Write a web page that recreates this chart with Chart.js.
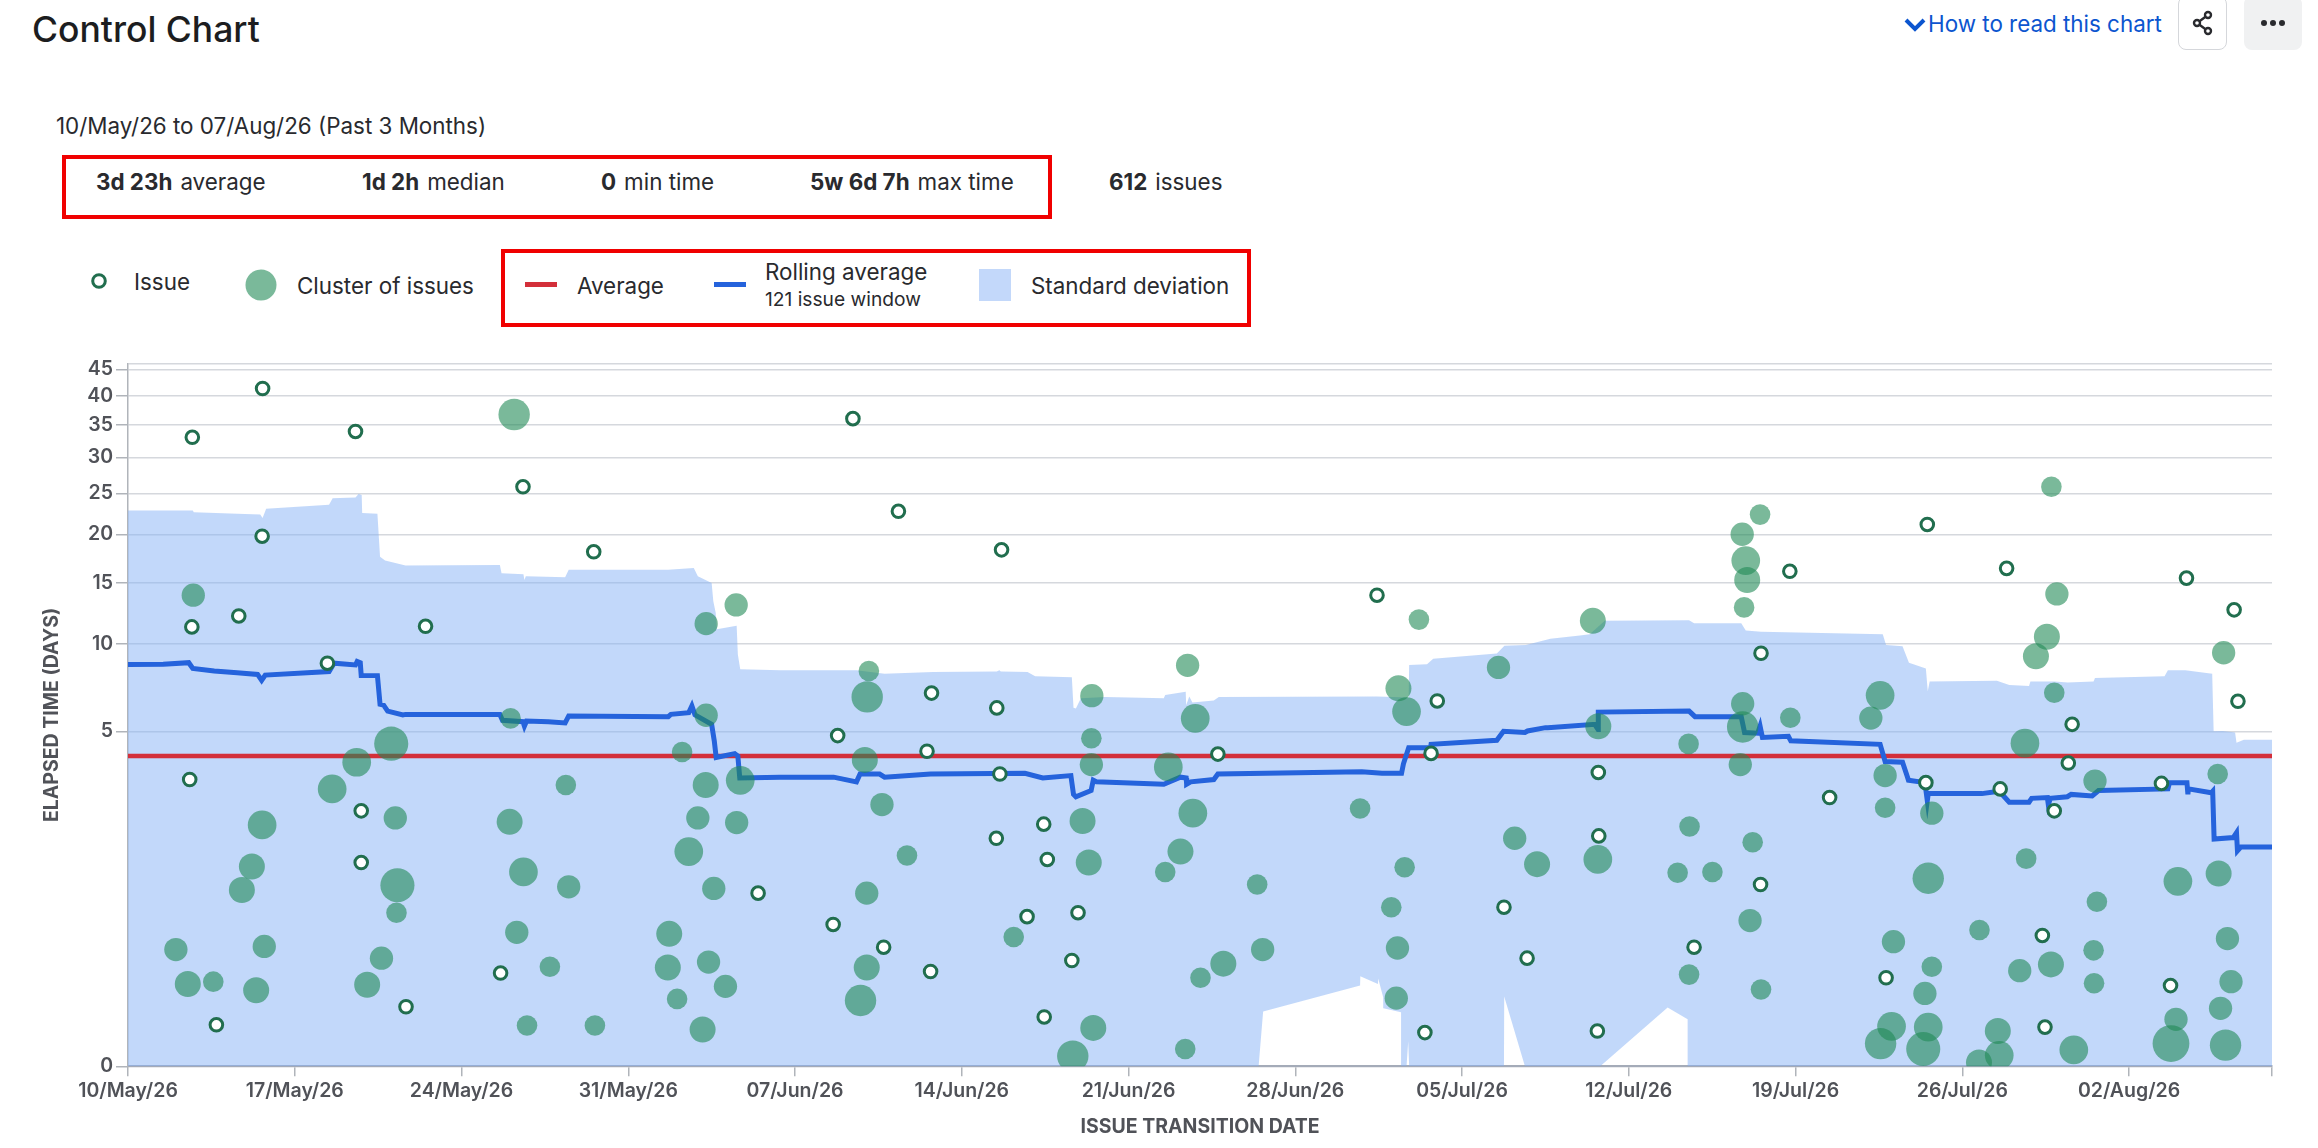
<!DOCTYPE html>
<html>
<head>
<meta charset="utf-8">
<title>Control Chart</title>
<script src="https://cdn.jsdelivr.net/npm/chart.js@4/dist/chart.umd.js"></script>
<style>
  html, body { margin: 0; padding: 0; background: #fff; overflow: hidden; }
  body { width: 2318px; height: 1148px; position: relative; font-family: Inter, sans-serif; color: #172b4d; }
  .t { position: absolute; transform: translateY(-50%); white-space: nowrap; font-size: 22.4px; color: #292a2e; line-height: 1.2; }
  .t b { font-weight: 700; margin-right: 8px; }
  .box { position: absolute; border: 4px solid #f00000; box-sizing: border-box; }
  .swatch { position: absolute; }
  #chart-wrap { position: absolute; left: 0; top: 340px; width: 2318px; height: 808px; }
  .btn { position: absolute; top: -4px; height: 54px; box-sizing: border-box; border-radius: 8px; display: flex; align-items: center; justify-content: center; }
</style>
</head>
<body>
  <div class="t" style="left:32px;top:30px;font-size:35.5px;font-weight:500;color:#1c1d20">Control Chart</div>

  <svg class="swatch" style="left:1904px;top:17px" width="22" height="15" viewBox="0 0 22 15"><path d="M2 3 L11 12 L20 3" fill="none" stroke="#0c55cf" stroke-width="4"/></svg>
  <div class="t" style="left:1928px;top:24px;color:#0c55cf">How to read this chart</div>
  <div class="btn" style="left:2178px;width:49px;border:1.5px solid #d5d7db">
    <svg width="24" height="26" viewBox="0 0 24 26" fill="none" stroke="#292a2e" stroke-width="2.4"><circle cx="17" cy="5" r="3"/><circle cx="6" cy="13" r="3"/><circle cx="17" cy="21" r="3"/><path d="M8.5 11.2 L14.5 6.8 M8.5 14.8 L14.5 19.2"/></svg>
  </div>
  <div class="btn" style="left:2244px;width:58px;background:#f0f1f2">
    <svg width="28" height="8" viewBox="0 0 28 8" fill="#292a2e"><circle cx="5" cy="4" r="3"/><circle cx="14" cy="4" r="3"/><circle cx="23" cy="4" r="3"/></svg>
  </div>

  <div class="t" style="left:56px;top:126px">10/May/26 to 07/Aug/26 (Past 3 Months)</div>

  <div class="box" style="left:62px;top:155px;width:990px;height:64px"></div>
  <div class="t" style="left:96px;top:182px"><b>3d 23h</b>average</div>
  <div class="t" style="left:362px;top:182px"><b>1d 2h</b>median</div>
  <div class="t" style="left:601px;top:182px"><b>0</b>min time</div>
  <div class="t" style="left:810px;top:182px"><b>5w 6d 7h</b>max time</div>
  <div class="t" style="left:1109px;top:182px"><b>612</b>issues</div>

  <div class="box" style="left:501px;top:249px;width:750px;height:78px"></div>
  <svg class="swatch" style="left:90px;top:272px" width="18" height="18"><circle cx="9" cy="9" r="6.3" fill="#fff" stroke="#216e4e" stroke-width="3"/></svg>
  <div class="t" style="left:134px;top:282px">Issue</div>
  <svg class="swatch" style="left:245px;top:269px" width="32" height="32"><circle cx="16" cy="16" r="15.5" fill="rgba(34,139,86,.6)"/></svg>
  <div class="t" style="left:297px;top:286px">Cluster of issues</div>
  <div class="swatch" style="left:525px;top:282px;width:32px;height:5px;background:#d32f3a"></div>
  <div class="t" style="left:577px;top:286px">Average</div>
  <div class="swatch" style="left:714px;top:282px;width:32px;height:5px;background:#2563dc"></div>
  <div class="t" style="left:765px;top:272px">Rolling average</div>
  <div class="t" style="left:765px;top:300px;font-size:19.2px">121 issue window</div>
  <div class="swatch" style="left:979px;top:269px;width:32px;height:32px;background:#c3d8fa"></div>
  <div class="t" style="left:1031px;top:286px">Standard deviation</div>

  <div id="chart-wrap"><canvas id="control-chart"></canvas></div>

<script>
// x values are days since 10/May/26, y values are elapsed days

const xTickDays = [0, 7, 14, 21, 28, 35, 42, 49, 56, 63, 70, 77, 84, 90];
const xTickLabels = ['10/May/26', '17/May/26', '24/May/26', '31/May/26', '07/Jun/26', '14/Jun/26', '21/Jun/26',
  '28/Jun/26', '05/Jul/26', '12/Jul/26', '19/Jul/26', '26/Jul/26', '02/Aug/26', ''];
const yTickValues = [0, 5, 10, 15, 20, 25, 30, 35, 40, 45, 46];

const averageDays = [0, 90];
const averageValues = [3.96, 3.96];

const issueDays = [
  2.70, 5.65, 9.55, 16.58, 5.63, 19.55, 2.68, 4.65, 12.49, 8.37,
  2.59, 9.79, 9.79, 26.45, 15.64, 11.67, 3.71,
  30.43, 32.34, 36.67, 52.43, 33.73, 36.47, 29.79, 33.54, 36.6, 45.75, 54.7, 54.96,
  38.44, 36.45, 38.59, 37.74, 39.88, 29.6, 31.72, 57.76, 58.73, 39.62, 33.69, 38.46, 54.44,
  75.53, 78.86, 69.76, 86.41, 88.41, 68.55, 88.57, 81.61, 81.45, 61.72,
  75.47, 78.59, 85.36, 80.86, 71.43, 61.74, 68.53, 80.36, 65.74, 73.8, 85.74, 80.47, 61.68,
];
const issueValues = [
  33.1, 41.4, 34.0, 25.9, 19.8, 18.2, 11.4, 12.3, 11.45, 8.9,
  3.66, 3.26, 2.6, 2.21, 1.19, 0.76, 0.53,
  36.1, 22.8, 18.4, 14.0, 7.19, 6.34, 4.82, 4.16, 3.73, 4.04, 4.07, 6.74,
  3.09, 2.91, 2.64, 1.91, 1.96, 1.81, 1.52, 2.03, 1.38, 1.35, 1.21, 0.63, 0.43,
  21.2, 16.5, 16.2, 15.5, 12.8, 9.47, 6.72, 5.4, 3.87, 3.75,
  3.62, 3.54, 3.61, 3.26, 3.43, 2.94, 2.32, 1.67, 1.52, 1.13, 1.03, 0.5, 0.45,
];

const clusterDays = [
  16.21, 2.74, 25.53, 24.27, 16.06, 24.27, 11.05, 9.6, 23.26,
  8.57, 5.63, 5.2, 4.78, 11.31, 11.22, 11.27, 5.72, 2.01, 2.51, 3.58, 5.38, 10.64, 10.04,
  16.02, 16.6, 16.32, 18.38, 18.5, 17.71, 16.75, 19.6,
  24.25, 25.7, 23.92, 25.55, 23.54, 24.59, 22.72, 22.66, 24.37, 25.08, 23.05, 24.12,
  31.1, 31.03, 40.46, 40.44, 30.93, 40.44, 43.67, 44.8, 44.48, 54.19, 53.33, 53.67, 57.53,
  31.65, 40.07, 44.7, 51.72, 32.7, 40.33, 44.18, 43.54, 47.4, 53.59, 58.21, 59.15, 31.01,
  53.03, 37.18, 53.29, 47.63, 31.01, 45.98, 45.02, 53.24, 30.75, 40.52, 44.38, 39.66,
  80.74, 68.51, 67.76, 67.91, 67.97, 67.84, 80.97, 61.49, 80.55, 80.09, 87.97, 80.86,
  73.55, 73.16, 67.78, 67.78, 69.78, 61.72, 65.51, 79.63, 67.68,
  73.76, 82.57, 87.72, 73.76, 75.72, 65.55, 68.2, 79.68, 61.7, 65.05, 66.51, 87.76, 86.05, 75.57,
  82.65, 68.09, 77.72, 74.11, 88.13, 82.51, 75.72, 80.72, 79.41, 65.53, 88.28, 82.53, 68.55, 75.43,
  87.84, 74.03, 75.57, 85.97, 78.49, 73.57, 75.36, 85.76, 88.05, 81.68, 78.55, 77.7,
];
const clusterValues = [
  36.8, 14.0, 13.2, 11.67, 5.74, 5.92, 4.48, 3.88, 4.13,
  3.54, 3.08, 2.55, 2.25, 2.31, 3.17, 1.96, 1.53, 1.49, 1.05, 1.08, 0.97, 1.38, 1.04,
  3.12, 2.48, 1.71, 3.59, 2.29, 1.27, 0.52, 0.52,
  3.59, 3.65, 3.17, 3.11, 2.74, 2.27, 1.69, 1.26, 1.33, 1.02, 0.86, 0.47,
  8.45, 6.97, 7.04, 4.71, 3.91, 3.85, 3.82, 5.74, 8.78, 12.0, 7.46, 6.13, 8.66,
  3.34, 3.13, 3.23, 3.29, 2.69, 2.6, 2.74, 2.48, 2.32, 2.54, 2.91, 2.58, 2.21,
  2.03, 1.65, 1.51, 1.49, 1.26, 1.31, 1.13, 0.87, 0.84, 0.49, 0.22, 0.13,
  25.9, 22.4, 20.0, 17.3, 15.3, 13.0, 14.1, 11.9, 10.6, 9.3, 9.5, 7.21,
  7.06, 5.76, 6.58, 5.25, 5.78, 5.29, 4.47, 4.5, 3.85,
  3.71, 3.64, 3.73, 3.3, 3.23, 3.06, 2.86, 2.65, 2.64, 2.47, 2.48, 2.46, 2.36, 2.4,
  2.1, 1.86, 1.74, 1.59, 1.63, 1.48, 1.27, 1.3, 1.22, 1.17, 1.08, 1.06, 0.98, 0.93,
  0.74, 0.51, 0.5, 0.6, 0.45, 0.29, 0.22, 0.29, 0.27, 0.21, 0.14, 0.05,
];
// estimated number of issues in each cluster, drives the bubble size
const clusterIssues = [
  6, 3, 3, 3, 2, 3, 7, 5, 2,
  5, 5, 4, 4, 7, 3, 2, 3, 3, 4, 2, 4, 3, 4,
  4, 5, 3, 2, 3, 2, 2, 2,
  4, 5, 3, 3, 5, 3, 4, 4, 3, 3, 2, 4,
  2, 6, 3, 2, 4, 3, 5, 5, 3, 2, 4, 5, 3,
  3, 4, 5, 2, 2, 4, 4, 2, 2, 2, 3, 4, 3,
  2, 2, 3, 3, 4, 4, 2, 3, 6, 4, 2, 6,
  2, 2, 3, 5, 4, 2, 3, 4, 4, 4, 3, 2,
  5, 3, 3, 6, 2, 4, 2, 5, 3,
  3, 3, 2, 2, 3, 2, 2, 2, 5, 2, 2, 4, 5, 6,
  2, 3, 2, 3, 3, 2, 2, 4, 3, 2, 3, 2, 2, 3,
  3, 5, 5, 3, 4, 6, 7, 8, 6, 5, 5, 4,
];

const rollingDays = [
  0, 1.48, 2.55, 2.72, 3.62, 4.58, 5.44, 5.61, 5.76, 8.44, 8.65, 9.55, 9.62, 9.75, 9.79, 10.47, 10.58, 10.73, 10.9,
  11.54, 11.65, 15.61, 15.72, 16.58, 16.64, 16.73, 17.65, 18.35, 18.5, 22.68, 22.79, 23.54, 23.67, 23.8, 24.5, 24.61,
  24.69, 25.47, 25.6, 25.68, 27.37, 29.62, 30.58, 30.73, 31.55, 31.76, 33.69, 37.65, 38.4, 39.58, 39.69, 39.79, 40.43,
  40.52, 40.65, 43.48, 44.18, 44.42, 44.44, 44.61, 45.58, 45.75, 51.79, 52.64, 53.46, 53.54, 53.76, 54.68, 54.7, 57.46,
  57.74, 58.64, 58.75, 59.5, 59.6, 61.57, 61.71, 61.72, 65.53, 65.78, 67.72, 67.86, 68.41, 68.51, 68.61, 69.7, 69.8,
  73.55, 73.76, 74.49, 74.7, 74.74, 75.43, 75.53, 75.57, 77.82, 78.55, 78.97, 79.8, 79.91, 80.57, 80.61, 80.7, 81.41,
  81.57, 82.45, 82.72, 85.63, 85.7, 86.43, 86.47, 86.49, 87.45, 87.51, 87.57, 88.38, 88.51, 88.55, 88.7, 90,
];
const rollingValues = [
  8.82, 8.84, 8.93, 8.6, 8.45, 8.36, 8.26, 7.92, 8.22, 8.42, 8.9, 8.8, 9.0, 8.93, 8.2, 8.19, 6.55, 6.5, 6.16,
  5.94, 5.97, 5.97, 5.63, 5.55, 5.3, 5.59, 5.55, 5.48, 5.88, 5.84, 5.97, 6.07, 6.45, 5.94, 5.4, 4.6,
  3.94, 4.06, 3.96, 3.68, 3.69, 3.69, 3.63, 3.73, 3.73, 3.69, 3.73, 3.74, 3.68, 3.71, 3.47, 3.44, 3.52,
  3.65, 3.63, 3.6, 3.69, 3.68, 3.6, 3.63, 3.66, 3.73, 3.76, 3.74, 3.74, 3.86, 4.31, 4.31, 4.45, 4.62,
  5.0, 4.95, 5.02, 5.21, 5.2, 5.4, 5.11, 6.1, 6.16, 5.84, 5.84, 4.95, 4.92, 5.3, 4.74, 4.79, 4.6,
  4.45, 3.89, 3.88, 3.69, 3.65, 3.62, 3.39, 3.48, 3.48, 3.51, 3.37, 3.37, 3.42, 3.43, 3.34, 3.42, 3.44,
  3.47, 3.45, 3.52, 3.54, 3.62, 3.62, 3.47, 3.54, 3.49, 3.51, 2.9, 2.92, 2.98, 2.75, 2.8, 2.8,
];

const bandUpperDays = [
  0, 2.72, 2.76, 4.58, 5.55, 5.65, 5.8, 8.44, 8.59, 9.55, 9.68, 9.81, 9.83, 10.47, 10.58, 10.79, 11.65, 15.61, 15.68,
  16.6, 16.64, 16.7, 18.35, 18.5, 22.68, 23.75, 23.92, 24.5, 24.57, 24.67, 24.72, 25.55, 25.6, 25.7, 27.37, 30.58,
  31.76, 33.8, 36.47, 36.58, 36.64, 37.76, 38.08, 39.62, 39.69, 39.79, 40.0, 41.01, 43.48, 43.54, 44.4, 44.42, 44.55,
  44.68, 45.58, 45.79, 52.43, 53.76, 53.78, 54.53, 54.79, 57.46, 57.78, 58.68, 59.71, 60.95, 61.36, 61.99, 65.53,
  65.74, 67.72, 67.91, 68.55, 73.66, 73.8, 74.49, 74.76, 75.47, 75.55, 75.63, 78.45, 78.97, 79.8, 79.86, 80.86, 81.43,
  82.51, 82.57, 85.49, 85.63, 86.36, 87.49, 87.55, 87.93, 88.45, 88.51, 88.82, 90,
];
const bandUpperValues = [
  22.9, 22.9, 22.7, 22.5, 22.4, 22.0, 23.1, 23.6, 24.4, 24.5, 24.9, 24.8, 22.6, 22.5, 17.7, 17.3, 16.8, 16.85, 16.0,
  15.9, 15.3, 15.7, 15.6, 16.35, 16.35, 16.55, 15.7, 15.0, 13.5, 12.57, 11.2, 11.5, 9.4, 8.55, 8.5, 8.5,
  8.3, 8.4, 8.43, 8.5, 8.42, 8.4, 8.15, 8.1, 6.35, 6.3, 6.9, 6.97, 6.89, 7.08, 7.27, 6.5, 7.0,
  6.65, 6.77, 6.97, 7.0, 6.93, 8.8, 8.84, 9.15, 9.46, 9.9, 9.95, 10.44, 10.7, 10.8, 11.9, 11.94,
  11.7, 11.7, 11.1, 11.0, 10.8, 9.95, 9.87, 8.93, 8.6, 7.3, 7.85, 7.9, 7.65, 7.6, 7.85, 7.85, 7.8,
  7.85, 8.05, 8.15, 8.5, 8.5, 8.3, 5.0, 5.02, 4.95, 4.52, 4.64, 4.64,
];
const bandLowerDays = [
  0, 47.46, 47.65, 51.72, 51.73, 52.47, 52.48, 52.69, 52.7, 53.44, 53.46, 53.67, 53.74, 53.78, 57.76, 57.77, 58.64,
  61.8, 64.63, 65.47, 65.48, 90,
];
const bandLowerValues = [
  0, 0, 0.7, 1.03, 1.15, 1.05, 1.12, 0.88, 0.74, 0.69, 0, 0, 0.32, 0, 0, 0.89, 0,
  0, 0.75, 0.6, 0, 0,
];

// The axis is neither linear nor log: it is stretched below 5 days. Each stop is
// [elapsed days, share of the axis height from the bottom].
const ELAPSED_STOPS = [
  [0, 0], [3.96, 0.4414], [5, 0.4765], [10, 0.6007], [15, 0.6875], [20, 0.7568],
  [25, 0.8151], [30, 0.8663], [35, 0.9122], [40, 0.9535], [45, 0.9915], [46, 1],
];

class ElapsedScale extends Chart.LinearScale {
  static id = 'elapsed';
  static defaults = Chart.LinearScale.defaults;

  getPixelForValue(value) {
    if (value === null || value === undefined) return NaN;
    for (let i = 1; i < ELAPSED_STOPS.length; i++) {
      const [v0, f0] = ELAPSED_STOPS[i - 1];
      const [v1, f1] = ELAPSED_STOPS[i];
      if (value <= v1) return this.getPixelForDecimal(f0 + (f1 - f0) * (value - v0) / (v1 - v0));
    }
    return this.getPixelForDecimal(1);
  }

  getValueForPixel(pixel) {
    const dec = this.getDecimalForPixel(pixel);
    for (let i = 1; i < ELAPSED_STOPS.length; i++) {
      const [v0, f0] = ELAPSED_STOPS[i - 1];
      const [v1, f1] = ELAPSED_STOPS[i];
      if (dec <= f1) return v0 + (v1 - v0) * (dec - f0) / (f1 - f0);
    }
    return 46;
  }
}
Chart.register(ElapsedScale);

const toPoints = (xs, ys) => xs.map((x, i) => ({ x, y: ys[i] }));
const clusterRadius = n => 7.6 + 1.35 * n;

const AXIS_FONT = { family: 'Inter, sans-serif', size: 19.5, weight: '600' };
const AXIS_TITLE_FONT = { family: 'Inter, sans-serif', size: 19.5, weight: '700' };
const AXIS_TEXT = '#505258';

new Chart(document.getElementById('control-chart'), {
  type: 'scatter',
  data: {
    datasets: [
      {
        label: 'Issue',
        data: toPoints(issueDays, issueValues),
        pointRadius: 6.3,
        pointBorderWidth: 3,
        pointBackgroundColor: '#fff',
        pointBorderColor: '#216e4e',
        clip: 0,
        order: 1,
      },
      {
        label: 'Cluster of issues',
        data: toPoints(clusterDays, clusterValues),
        pointRadius: clusterIssues.map(clusterRadius),
        pointBorderWidth: 0,
        pointBackgroundColor: 'rgba(34,139,86,0.6)',
        clip: 0,
        order: 2,
      },
      {
        label: 'Rolling average',
        data: toPoints(rollingDays, rollingValues),
        showLine: true,
        pointRadius: 0,
        borderColor: '#2563dc',
        borderWidth: 5,
        borderJoinStyle: 'miter',
        tension: 0,
        clip: 0,
        order: 3,
      },
      {
        label: 'Average',
        data: toPoints(averageDays, averageValues),
        showLine: true,
        pointRadius: 0,
        borderColor: '#d32f3a',
        borderWidth: 4.5,
        tension: 0,
        clip: 0,
        order: 4,
      },
      {
        label: 'Standard deviation',
        data: toPoints(bandUpperDays, bandUpperValues),
        showLine: true,
        pointRadius: 0,
        borderWidth: 0,
        tension: 0,
        fill: '+1',
        backgroundColor: 'rgba(133,178,245,0.5)',
        order: 5,
      },
      {
        label: 'Standard deviation (lower)',
        data: toPoints(bandLowerDays, bandLowerValues),
        showLine: true,
        pointRadius: 0,
        borderWidth: 0,
        tension: 0,
        order: 6,
      },
    ],
  },
  options: {
    responsive: true,
    maintainAspectRatio: false,
    animation: false,
    layout: { padding: { left: 0, right: 46, top: 23.3, bottom: 0 } },
    plugins: { legend: { display: false }, tooltip: { enabled: false } },
    scales: {
      x: {
        type: 'linear',
        min: 0,
        max: 90,
        afterBuildTicks: s => { s.ticks = xTickDays.map(value => ({ value })); },
        afterFit: s => { s.height = 81.7; },
        grid: { drawOnChartArea: false, tickLength: 10, tickColor: '#b0b4ba', lineWidth: 1.5 },
        border: { color: '#a4abb8', width: 2 },
        ticks: {
          autoSkip: false,
          maxRotation: 0,
          padding: 3,
          color: AXIS_TEXT,
          font: AXIS_FONT,
          callback: (v, i) => xTickLabels[i],
        },
        title: {
          display: true,
          text: 'ISSUE TRANSITION DATE',
          color: AXIS_TEXT,
          font: AXIS_TITLE_FONT,
          padding: { top: 0, bottom: 9 },
        },
      },
      y: {
        type: 'elapsed',
        min: 0,
        max: 46,
        afterBuildTicks: s => { s.ticks = yTickValues.map(value => ({ value })); },
        afterFit: s => { s.width = 128; },
        grid: {
          color: '#d5d8dd',
          lineWidth: 1.5,
          tickLength: 12,
          tickColor: ctx => (ctx.tick && ctx.tick.value === 46 ? 'transparent' : '#b0b4ba'),
        },
        border: { color: '#b0b4ba', width: 1.5 },
        ticks: {
          autoSkip: false,
          padding: 3,
          color: AXIS_TEXT,
          font: AXIS_FONT,
          callback: v => (v === 46 ? '' : v),
        },
        title: {
          display: true,
          text: 'ELAPSED TIME (DAYS)',
          color: AXIS_TEXT,
          font: AXIS_TITLE_FONT,
          padding: { top: 40, bottom: 0 },
        },
      },
    },
  },
});
</script>
</body>
</html>
